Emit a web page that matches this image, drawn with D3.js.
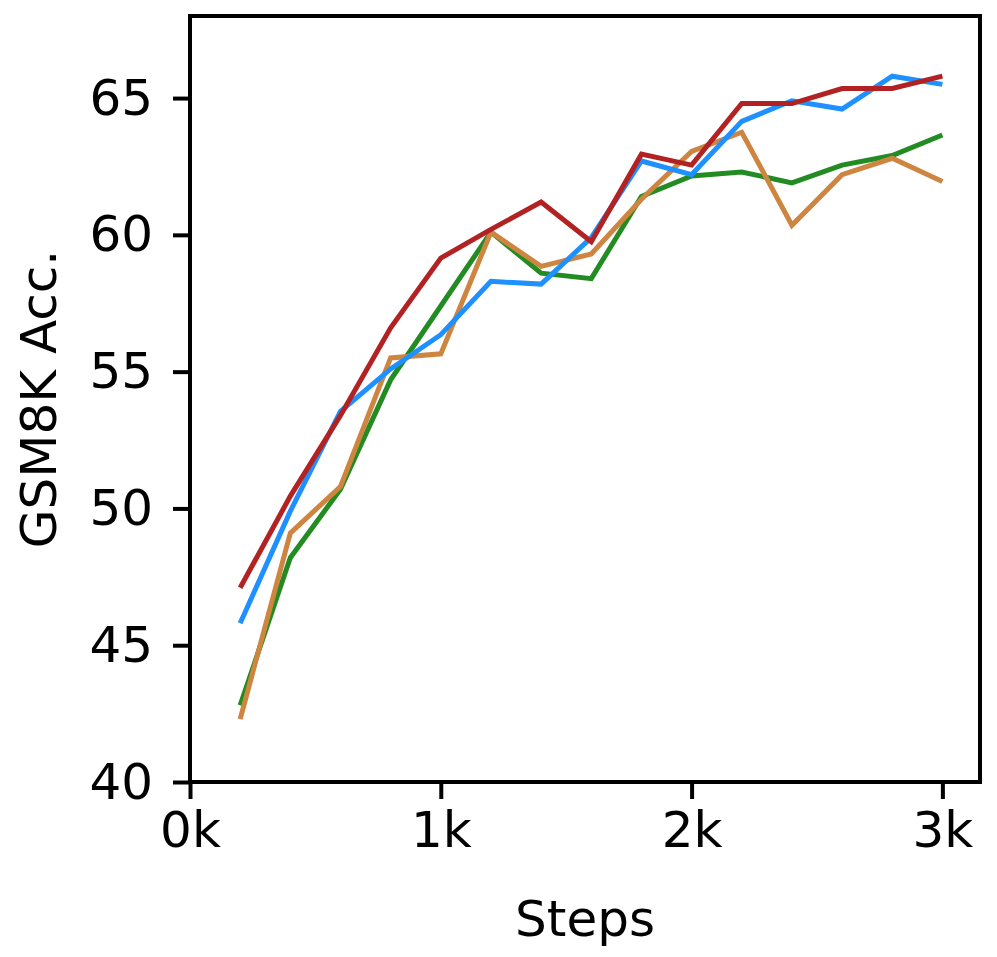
<!DOCTYPE html>
<html>
<head>
<meta charset="utf-8">
<script src="https://cdn.jsdelivr.net/npm/d3@7"></script>
<style>
  body { margin: 0; background: #fff; }
  svg text { font-family: "DejaVu Sans", sans-serif; fill: #000; }
</style>
</head>
<body>
<div class="chart"></div>
<script>
// data
const steps = [200, 400, 600, 800, 1000, 1200, 1400, 1600, 1800, 2000, 2200, 2400, 2600, 2800, 3000]

const greenVals = [42.8, 48.2, 50.7, 54.7, 57.4, 60.1, 58.6, 58.4, 61.4, 62.15, 62.3, 61.9, 62.55, 62.9, 63.65]
const orangeVals = [42.3, 49.1, 50.8, 55.5, 55.65, 60.1, 58.85, 59.3, 61.3, 63.05, 63.75, 60.35, 62.2, 62.8, 61.95]
const blueVals = [45.8, 49.9, 53.55, 55.1, 56.35, 58.3, 58.2, 59.9, 62.7, 62.2, 64.15, 64.9, 64.6, 65.8, 65.5]
const redVals = [47.1, 50.45, 53.4, 56.6, 59.15, 60.2, 61.2, 59.75, 62.95, 62.55, 64.8, 64.8, 65.35, 65.35, 65.8]

const seriesColors = ['#228b22', '#cd853f', '#1e90ff', '#b22222']
const xTicks = [0, 1000, 2000, 3000]
const yTicks = [40, 45, 50, 55, 60, 65]

const width = 997
const height = 957
const margin = {top: 16, right: 17, bottom: 175, left: 190}

const svg = d3.select('.chart')
  .append('svg')
  .attr('width', width)
  .attr('height', height)

const x = d3.scaleLinear()
  .domain([0, 3150])
  .range([margin.left, width - margin.right])

const y = d3.scaleLinear()
  .domain([40, 68])
  .range([height - margin.bottom, margin.top])

const series = [greenVals, orangeVals, blueVals, redVals]

const line = d3.line()
  .x((d, i) => x(steps[i]))
  .y(d => y(d))

const lines = svg.append('g').attr('class', 'lines')

series.forEach((vals, k) => {
  lines.append('path')
    .datum(vals)
    .attr('d', line)
    .attr('fill', 'none')
    .attr('stroke', seriesColors[k])
    .attr('stroke-width', 5)
    .attr('stroke-linejoin', 'miter')
    .attr('stroke-linecap', 'butt')
})

// frame
svg.append('rect')
  .attr('x', margin.left)
  .attr('y', margin.top)
  .attr('width', width - margin.right - margin.left)
  .attr('height', height - margin.bottom - margin.top)
  .attr('fill', 'none')
  .attr('stroke', '#000')
  .attr('stroke-width', 4)

const xAxis = svg.append('g')
  .attr('transform', `translate(0, ${height - margin.bottom})`)
  .call(d3.axisBottom(x).tickValues(xTicks).tickSize(17).tickPadding(12)
    .tickFormat(d => (d / 1000) + 'k'))

const yAxis = svg.append('g')
  .attr('transform', `translate(${margin.left}, 0)`)
  .call(d3.axisLeft(y).tickValues(yTicks).tickSize(17).tickPadding(20))

;[xAxis, yAxis].forEach(ax => {
  ax.select('.domain').remove()
  ax.selectAll('.tick line').attr('stroke', '#000').attr('stroke-width', 4)
  ax.selectAll('.tick text')
    .style('font-family', '"DejaVu Sans", sans-serif')
    .style('font-size', '50px')
    .attr('fill', '#000')
})

svg.append('text')
  .attr('x', (margin.left + width - margin.right) / 2)
  .attr('y', 936)
  .attr('text-anchor', 'middle')
  .style('font-size', '50px')
  .text('Steps')

svg.append('text')
  .attr('transform', `translate(56, ${(margin.top + height - margin.bottom) / 2}) rotate(-90)`)
  .attr('text-anchor', 'middle')
  .style('font-size', '50px')
  .text('GSM8K Acc.')
</script>
</body>
</html>
